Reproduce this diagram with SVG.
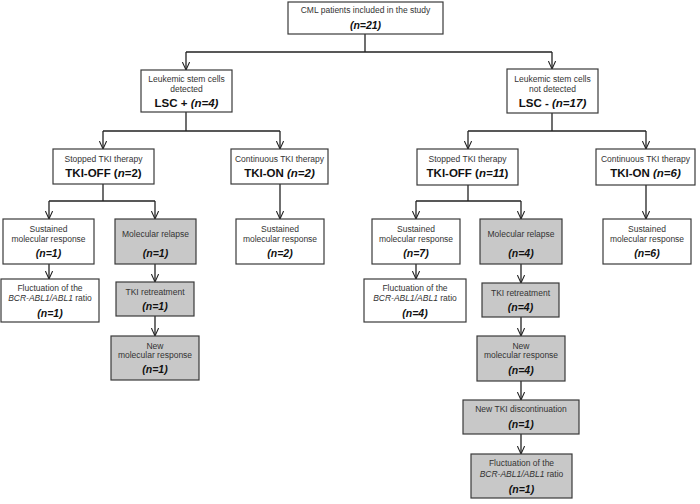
<svg xmlns="http://www.w3.org/2000/svg" width="700" height="504" viewBox="0 0 700 504">
<defs>
<marker id="arr" viewBox="0 0 10 10" refX="10" refY="5" markerWidth="8" markerHeight="8" markerUnits="userSpaceOnUse" orient="auto">
<path d="M0,0.5 L10,5 L0,9.5" fill="none" stroke="#222" stroke-width="1.3"/>
</marker>
<style>
rect{stroke:#3a3a3a;stroke-width:1.2;fill:#fff}
rect.g{fill:#c8c8c8}
text{font-family:"Liberation Sans",Arial,sans-serif;text-anchor:middle}
.s{font-size:8.5px;fill:#333}
.b{font-size:11.5px;font-weight:bold;fill:#111}
.n{font-size:10.5px;font-weight:bold;font-style:italic;fill:#111}
.i{font-style:italic}
#conn path{fill:none;stroke:#222;stroke-width:1.3}
</style>
</defs>
<rect x="0" y="0" width="700" height="504" style="fill:#fff;stroke:none"/>
<g id="conn">
<path d="M365,34 V52 M186,52 H552"/>
<path d="M186,52 V70" marker-end="url(#arr)"/>
<path d="M552,52 V69" marker-end="url(#arr)"/>
<path d="M186,112 V131 M103,131 H280"/>
<path d="M103,131 V149" marker-end="url(#arr)"/>
<path d="M280,131 V149" marker-end="url(#arr)"/>
<path d="M552,113 V131 M468,131 H646"/>
<path d="M468,131 V149" marker-end="url(#arr)"/>
<path d="M646,131 V149" marker-end="url(#arr)"/>
<path d="M103,184 V201 M49,201 H155"/>
<path d="M49,201 V219" marker-end="url(#arr)"/>
<path d="M155,201 V219" marker-end="url(#arr)"/>
<path d="M280,184 V219" marker-end="url(#arr)"/>
<path d="M468,185 V201 M416,201 H521"/>
<path d="M416,201 V219" marker-end="url(#arr)"/>
<path d="M521,201 V219" marker-end="url(#arr)"/>
<path d="M646,185 V219" marker-end="url(#arr)"/>
<path d="M49,264 V279" marker-end="url(#arr)"/>
<path d="M155,264 V282" marker-end="url(#arr)"/>
<path d="M155,316 V336" marker-end="url(#arr)"/>
<path d="M416,264 V279" marker-end="url(#arr)"/>
<path d="M521,264 V283" marker-end="url(#arr)"/>
<path d="M521,317 V336" marker-end="url(#arr)"/>
<path d="M521,381 V400" marker-end="url(#arr)"/>
<path d="M521,434 V454" marker-end="url(#arr)"/>
</g>
<g id="top">
<rect x="288" y="2" width="155" height="32"/>
<text x="365.5" y="13" class="s">CML patients included in the study</text>
<text x="365.5" y="29" class="n">(n=21)</text>
</g>
<g id="lscpos">
<rect x="141" y="70" width="91" height="42"/>
<text x="186.5" y="82" class="s">Leukemic stem cells</text>
<text x="186.5" y="92" class="s">detected</text>
<text x="186.5" y="107" class="b">LSC + <tspan class="i">(n=4)</tspan></text>
</g>
<g id="lscneg">
<rect x="507" y="69" width="91" height="44"/>
<text x="552.5" y="82" class="s">Leukemic stem cells</text>
<text x="552.5" y="92" class="s">not detected</text>
<text x="552.5" y="107" class="b">LSC - <tspan class="i">(n=17)</tspan></text>
</g>
<g id="tkioff1">
<rect x="53" y="149" width="101" height="35"/>
<text x="103.5" y="162" class="s">Stopped TKI therapy</text>
<text x="103.5" y="177" class="b">TKI-OFF (<tspan class="i">n</tspan>=2)</text>
</g>
<g id="tkion1">
<rect x="231" y="149" width="97" height="35"/>
<text x="279.5" y="162" class="s">Continuous TKI therapy</text>
<text x="279.5" y="177" class="b">TKI-ON <tspan class="i">(n=2)</tspan></text>
</g>
<g id="tkioff2">
<rect x="417" y="149" width="101" height="36"/>
<text x="467.5" y="162" class="s">Stopped TKI therapy</text>
<text x="467.5" y="177" class="b">TKI-OFF (<tspan class="i">n=11</tspan>)</text>
</g>
<g id="tkion2">
<rect x="596" y="149" width="99" height="36"/>
<text x="645.5" y="162" class="s">Continuous TKI therapy</text>
<text x="645.5" y="177" class="b">TKI-ON <tspan class="i">(n=6)</tspan></text>
</g>
<g id="sus1">
<rect x="3" y="219" width="91" height="45"/>
<text x="48.5" y="232" class="s">Sustained</text>
<text x="48.5" y="242" class="s">molecular response</text>
<text x="48.5" y="257" class="n">(n=1)</text>
</g>
<g id="rel1">
<rect x="115" y="219" width="81" height="45" class="g"/>
<text x="155.5" y="237" class="s">Molecular relapse</text>
<text x="155.5" y="257" class="n">(n=1)</text>
</g>
<g id="sus2">
<rect x="236" y="219" width="88" height="45"/>
<text x="280" y="232" class="s">Sustained</text>
<text x="280" y="242" class="s">molecular response</text>
<text x="280" y="257" class="n">(n=2)</text>
</g>
<g id="sus3">
<rect x="372" y="219" width="88" height="45"/>
<text x="416" y="232" class="s">Sustained</text>
<text x="416" y="242" class="s">molecular response</text>
<text x="416" y="257" class="n">(n=7)</text>
</g>
<g id="rel2">
<rect x="480" y="219" width="82" height="45" class="g"/>
<text x="521" y="237" class="s">Molecular relapse</text>
<text x="521" y="257" class="n">(n=4)</text>
</g>
<g id="sus4">
<rect x="603" y="219" width="88" height="45"/>
<text x="647" y="232" class="s">Sustained</text>
<text x="647" y="242" class="s">molecular response</text>
<text x="647" y="257" class="n">(n=6)</text>
</g>
<g id="fluc1">
<rect x="1" y="279" width="98" height="43"/>
<text x="50" y="291" class="s">Fluctuation of the</text>
<text x="50" y="301" class="s"><tspan class="i">BCR-ABL1/ABL1</tspan> ratio</text>
<text x="50" y="317" class="n">(n=1)</text>
</g>
<g id="ret1">
<rect x="116" y="282" width="78" height="34" class="g"/>
<text x="155" y="295" class="s">TKI retreatment</text>
<text x="155" y="310" class="n">(n=1)</text>
</g>
<g id="newmr1">
<rect x="111" y="336" width="88" height="44" class="g"/>
<text x="155" y="349" class="s">New</text>
<text x="155" y="358" class="s">molecular response</text>
<text x="155" y="373" class="n">(n=1)</text>
</g>
<g id="fluc2">
<rect x="364" y="279" width="102" height="43"/>
<text x="415" y="291" class="s">Fluctuation of the</text>
<text x="415" y="301" class="s"><tspan class="i">BCR-ABL1/ABL1</tspan> ratio</text>
<text x="415" y="317" class="n">(n=4)</text>
</g>
<g id="ret2">
<rect x="482" y="283" width="77" height="34" class="g"/>
<text x="520.5" y="296" class="s">TKI retreatment</text>
<text x="520.5" y="311" class="n">(n=4)</text>
</g>
<g id="newmr2">
<rect x="477" y="336" width="88" height="45" class="g"/>
<text x="521" y="349" class="s">New</text>
<text x="521" y="358" class="s">molecular response</text>
<text x="521" y="374" class="n">(n=4)</text>
</g>
<g id="disc">
<rect x="463" y="400" width="116" height="34" class="g"/>
<text x="521" y="412" class="s">New TKI discontinuation</text>
<text x="521" y="428" class="n">(n=1)</text>
</g>
<g id="fluc3">
<rect x="471" y="454" width="101" height="44" class="g"/>
<text x="521.5" y="466" class="s">Fluctuation of the</text>
<text x="521.5" y="477" class="s"><tspan class="i">BCR-ABL1/ABL1</tspan> ratio</text>
<text x="521.5" y="493" class="n">(n=1)</text>
</g>
</svg>
